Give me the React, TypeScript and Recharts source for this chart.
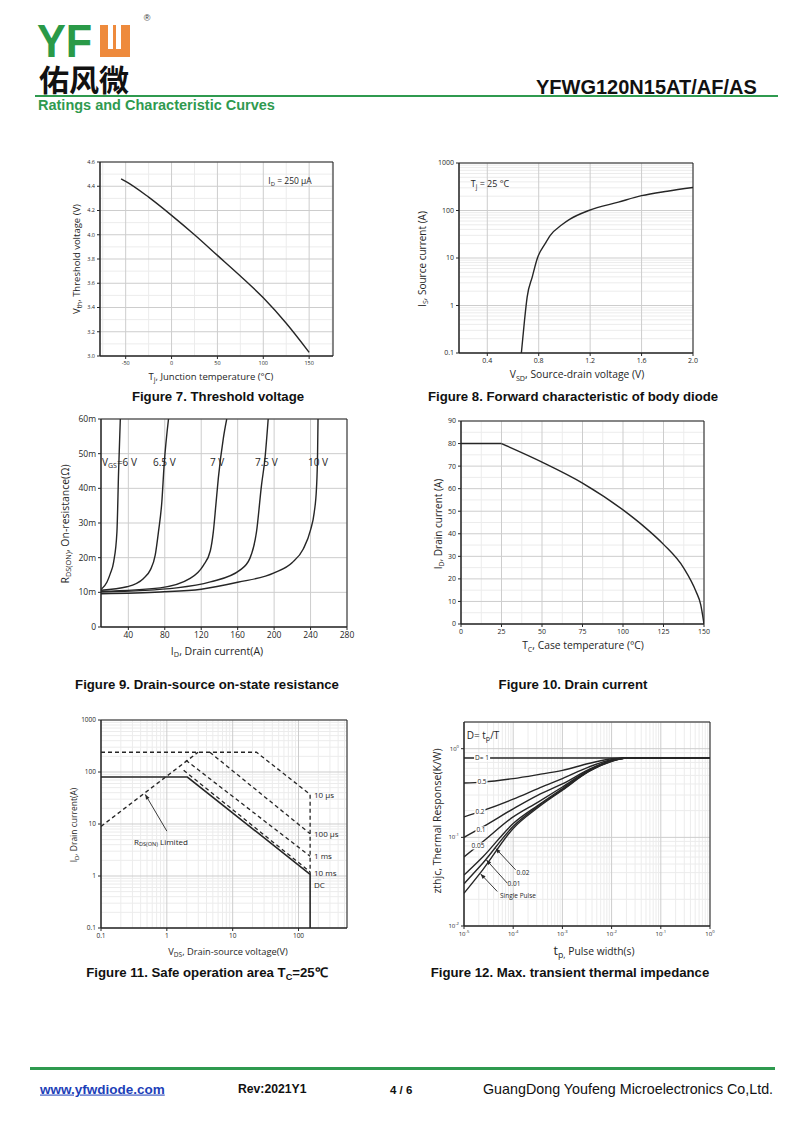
import React from 'react';
import { LineChart, Line, XAxis, YAxis, CartesianGrid, ReferenceArea, ReferenceLine } from 'recharts';

const SANS = '"Open Sans", "DejaVu Sans", sans-serif';
const ARIAL = '"Liberation Sans", Arial, sans-serif';
const GREEN = '#2f9a4f';
const INK = '#262626';
const MAJOR = '#cdcdcd';
const MINOR = '#ececec';

// Figure 7 - threshold voltage vs junction temperature
const vthTemp = [-55, -50, -25, 0, 25, 50, 75, 100, 125, 150];
const vthVolt = [4.46, 4.44, 4.31, 4.16, 4.0, 3.83, 3.66, 3.48, 3.27, 3.03];
const vthXTicks = [-50, 0, 50, 100, 150];
const vthXMinor = [-75, -25, 25, 75, 125, 175];
const vthYTicks = [3.0, 3.2, 3.4, 3.6, 3.8, 4.0, 4.2, 4.4, 4.6];
const vthYMinor = [3.1, 3.3, 3.5, 3.7, 3.9, 4.1, 4.3, 4.5];

// Figure 8 - body diode forward characteristic
const vsd = [0.665, 0.69, 0.71, 0.75, 0.79, 0.85, 0.89, 0.98, 1.04, 1.19, 1.42, 1.6, 1.8, 2.0];
const isd = [0.1, 0.5, 1.5, 4, 10, 20, 30, 50, 65, 100, 150, 205, 255, 305];
const vsdTicks = [0.4, 0.8, 1.2, 1.6, 2.0];
const isdTicks = [0.1, 1, 10, 100, 1000];

// Figure 9 - on-resistance vs drain current (mOhm)
const rds6Id = [10, 16.6, 20.2, 23.9, 27.5, 29.3, 31.2];
const rds6R = [10.8, 13.0, 15.4, 18.8, 27.5, 44.8, 60];
const rds65Id = [10, 38.5, 56.7, 64, 69.5, 73.1, 76.8, 79.3, 84.1];
const rds65R = [10.6, 11.6, 14.0, 16.4, 20.7, 27.5, 36.2, 46.8, 60];
const rds7Id = [10, 75, 107.8, 122.4, 130, 133.3, 136, 138.8, 144.3, 148];
const rds7R = [10.3, 11.3, 14.0, 17.8, 22, 27.5, 35, 43, 54.5, 60];
const rds75Id = [10, 93, 130, 162.5, 173.4, 180.7, 186.2, 190, 193.5];
const rds75R = [10.1, 11.3, 13.0, 16.4, 19.8, 27.5, 41, 48.7, 60];
const rds10Id = [10, 75, 120, 160, 200, 220, 232, 240, 244, 246.5, 247.7, 248.2];
const rds10R = [9.6, 10.1, 10.9, 12.9, 15.6, 18.6, 22.5, 28, 33, 40, 50, 60];
const rdsXTicks = [40, 80, 120, 160, 200, 240, 280];
const rdsYTicks = [0, 10, 20, 30, 40, 50, 60];

// Figure 10 - drain current derating
const tcPlateau = [0, 25];
const idPlateau = [80, 80];
const tcDerate = [25, 50, 75, 100, 112.5, 125, 137.5, 145, 148, 150];
const idDerate = [80, 71.8, 62.5, 50.6, 43.5, 35.3, 24.8, 14.5, 8.5, 0];
const tcTicks = [0, 25, 50, 75, 100, 125, 150];
const tcMinor = [12.5, 37.5, 62.5, 87.5, 112.5, 137.5];
const idTicks = [0, 10, 20, 30, 40, 50, 60, 70, 80, 90];
const idMinor = [5, 15, 25, 35, 45, 55, 65, 75, 85];

// Figure 11 - safe operating area
const soaDcV = [0.1, 2.05, 150, 150];
const soaDcI = [80, 80, 1.08, 0.1];
const soaRdsV = [0.1, 2.98];
const soaRdsI = [9, 240];
const soa10usV = [0.1, 23, 150, 150];
const soa10usI = [240, 240, 37, 1.08];
const soa100usV = [4.5, 150];
const soa100usI = [240, 6.5];
const soa1msV = [1.95, 150];
const soa1msI = [168, 2.4];
const soa10msV = [1.8, 150];
const soa10msI = [108, 1.2];
const soaXTicks = [0.1, 1, 10, 100];
const soaYTicks = [0.1, 1, 10, 100, 1000];
const soaArrowV = [1.0, 0.47];
const soaArrowI = [7.3, 37];

// Figure 12 - transient thermal impedance
const zthT = [1e-5, 2.4e-5, 1e-4, 3.2e-4, 1e-3, 3.4e-3, 1e-2, 2e-2, 1];
const zthD1 = [0.785, 0.785, 0.785, 0.785, 0.785, 0.785, 0.785, 0.785, 0.785];
const zthD05 = [0.41, 0.42, 0.46, 0.51, 0.57, 0.68, 0.77, 0.785, 0.785];
const zthD02 = [0.17, 0.2, 0.27, 0.355, 0.46, 0.62, 0.75, 0.785, 0.785];
const zthD01 = [0.1, 0.131, 0.21, 0.3, 0.4, 0.58, 0.74, 0.785, 0.785];
const zthD005 = [0.06, 0.089, 0.17, 0.25, 0.37, 0.57, 0.73, 0.785, 0.785];
const zthD002 = [0.0375, 0.06, 0.143, 0.23, 0.355, 0.56, 0.73, 0.785, 0.785];
const zthD001 = [0.03, 0.051, 0.133, 0.224, 0.345, 0.555, 0.72, 0.785, 0.785];
const zthSingle = [0.0234, 0.043, 0.126, 0.217, 0.34, 0.55, 0.72, 0.785, 0.785];
const zthXTicks = [1e-5, 1e-4, 1e-3, 1e-2, 1e-1, 1];
const zthYTicks = [0.01, 0.1, 1];
const zthArrowsT = [[1.12e-4, 4.4e-5], [7.6e-5, 2.85e-5], [4.75e-5, 2.18e-5]];
const zthArrowsZ = [[0.043, 0.075], [0.0304, 0.0556], [0.0245, 0.0387]];

const pts = (xs: number[], ys: number[]) => xs.map((x, i) => ({ x, y: ys[i] }));
const logMinors = (e0: number, e1: number, max = Infinity) => {
  const out: number[] = [];
  for (let e = e0; e < e1; e++) for (let k = 2; k < 10; k++) {
    const v = Number((k * Math.pow(10, e)).toPrecision(3));
    if (v <= max) out.push(v);
  }
  return out;
};

type Box = { x: number; y: number; w: number; h: number };
const BOX7: Box = { x: 100, y: 162, w: 233, h: 194 };
const BOX8: Box = { x: 459, y: 163, w: 234, h: 190 };
const BOX9: Box = { x: 101, y: 419, w: 246, h: 208 };
const BOX10: Box = { x: 461, y: 421, w: 243, h: 203 };
const BOX11: Box = { x: 101, y: 720, w: 246, h: 208 };
const BOX12: Box = { x: 464, y: 722, w: 246, h: 204 };

const YW = 40;
const XH = 24;
const PT = 8;
const PR = 14;

const Frame = ({ box, children }: { box: Box; children: React.ReactNode }) => (
  <div style={{ position: 'absolute', left: box.x - YW, top: box.y - PT }}>
    <LineChart width={box.w + YW + PR} height={box.h + PT + XH} margin={{ top: PT, right: PR, bottom: 0, left: 0 }}>
      {children}
    </LineChart>
  </div>
);

const tk = (size: number) => ({ fontSize: size, fill: INK, fontFamily: SANS });
const ax = { type: 'number' as const, allowDataOverflow: true, interval: 0 as const, tickSize: 3, tickMargin: 2, stroke: INK };

const PowTick = (props: any) => {
  const { x, y, payload, axis, size = 6 } = props;
  const e = Math.round(Math.log10(payload.value));
  const sup = <tspan dy={-3} fontSize={size * 0.7}>{e}</tspan>;
  if (axis === 'x') {
    return (
      <text x={x} y={y + size * 0.8} textAnchor="middle" fontSize={size} fill={INK} fontFamily={SANS}>
        10{sup}
      </text>
    );
  }
  return (
    <text x={x} y={y + size * 0.35} textAnchor="end" fontSize={size} fill={INK} fontFamily={SANS}>
      10{sup}
    </text>
  );
};

const Arrow = (p: any) => {
  const { x1, y1, x2, y2 } = p;
  const a = Math.atan2(y2 - y1, x2 - x1);
  const L = 5;
  const W = 2;
  const bx = x2 - L * Math.cos(a);
  const by = y2 - L * Math.sin(a);
  const s = (ang: number) => `${bx + W * Math.cos(ang)},${by + W * Math.sin(ang)}`;
  return (
    <g>
      <line x1={x1} y1={y1} x2={x2} y2={y2} stroke={INK} strokeWidth={0.9} />
      <polygon points={`${x2},${y2} ${s(a + Math.PI / 2)} ${s(a - Math.PI / 2)}`} fill={INK} />
    </g>
  );
};

type TxtProps = {
  x: number; y: number; size?: number; align?: 'left' | 'center' | 'right'; rotate?: boolean;
  bold?: boolean; color?: string; font?: string; bg?: string; style?: React.CSSProperties; children: React.ReactNode;
};
const Txt = ({ x, y, size = 9, align = 'center', rotate, bold, color = INK, font = SANS, bg, style, children }: TxtProps) => {
  const tx = align === 'left' ? '0' : align === 'right' ? '-100%' : '-50%';
  return (
    <div
      style={{
        position: 'absolute', left: x, top: y, whiteSpace: 'nowrap', lineHeight: 1.1,
        transform: `translate(${tx},-50%)${rotate ? ' rotate(-90deg)' : ''}`,
        fontSize: size, fontWeight: bold ? 700 : 400, color, fontFamily: font,
        background: bg, padding: bg ? '0 1px' : undefined, ...style,
      }}
    >
      {children}
    </div>
  );
};
const Sub = ({ children }: { children: React.ReactNode }) => (
  <sub style={{ fontSize: '0.7em', verticalAlign: '-0.3em', lineHeight: 0 }}>{children}</sub>
);

const lineProps = { dataKey: 'y', stroke: INK, strokeWidth: 1.4, dot: false, isAnimationActive: false, activeDot: false } as const;
const dashProps = { ...lineProps, type: 'linear' as const, strokeDasharray: '4 3', strokeWidth: 1.3 };

const Caption = ({ x, y, children }: { x: number; y: number; children: React.ReactNode }) => (
  <Txt x={x} y={y} size={13.2} bold font={ARIAL} color="#111">{children}</Txt>
);

export default function App() {
  return (
    <div style={{ position: 'absolute', left: 0, top: 0, width: 800, height: 1130, background: '#fff', overflow: 'hidden' }}>
      {/* header */}
      <div style={{ position: 'absolute', left: 37, top: 23, fontFamily: ARIAL, fontWeight: 700, fontSize: 47, color: '#2a9a48', transform: 'scaleX(0.92)', transformOrigin: 'left top', lineHeight: 0.75 }}>YF</div>
      <div style={{ position: 'absolute', left: 100, top: 25, width: 30, height: 32, background: '#ee8a3c' }}>
        <div style={{ position: 'absolute', left: 8, top: 0, width: 5, height: 24, background: '#fff' }} />
        <div style={{ position: 'absolute', left: 16, top: 0, width: 5, height: 24, background: '#fff' }} />
      </div>
      <Txt x={147} y={19} size={9} color="#333" font={ARIAL}>®</Txt>
      <Txt x={39} y={78} size={30} bold align="left" color="#111" font={'"Noto Sans CJK SC", sans-serif'} style={{ lineHeight: 1 }}>佑风微</Txt>
      <Txt x={536} y={87} size={20} bold align="left" color="#111" font={ARIAL}>YFWG120N15AT/AF/AS</Txt>
      <div style={{ position: 'absolute', left: 35, top: 95, width: 743, height: 2, background: GREEN }} />
      <Txt x={38} y={106} size={14.5} bold align="left" color={GREEN} font={ARIAL}>Ratings and Characteristic Curves</Txt>

      {/* Figure 7 */}
      <Frame box={BOX7}>
        <CartesianGrid stroke={MINOR} verticalValues={vthXMinor} horizontalValues={vthYMinor} />
        <CartesianGrid stroke={MAJOR} />
        <XAxis {...ax} dataKey="x" domain={[-78, 176]} ticks={vthXTicks} height={XH} tick={tk(5.5)} />
        <YAxis {...ax} domain={[3.0, 4.6]} ticks={vthYTicks} width={YW} tick={tk(5.5)} tickFormatter={(v: number) => v.toFixed(1)} />
        <ReferenceArea x1={-78} x2={176} y1={3.0} y2={4.6} fill="none" stroke={INK} />
        <Line {...lineProps} type="monotone" data={pts(vthTemp, vthVolt)} />
      </Frame>
      <Txt x={290} y={181} size={8.5}>I<Sub>D</Sub> = 250 μA</Txt>
      <Txt x={211} y={377} size={9.5}>T<Sub>j</Sub>, Junction temperature (°C)</Txt>
      <Txt x={77} y={259} size={9.5} rotate>V<Sub>th</Sub>, Threshold voltage (V)</Txt>
      <Caption x={218} y={397}>Figure 7. Threshold voltage</Caption>

      {/* Figure 8 */}
      <Frame box={BOX8}>
        <CartesianGrid stroke={MINOR} vertical={false} horizontalValues={logMinors(-1, 3)} />
        <CartesianGrid stroke={MAJOR} />
        <XAxis {...ax} dataKey="x" domain={[0.18, 2.0]} ticks={vsdTicks} height={XH} tick={tk(7)} tickFormatter={(v: number) => v.toFixed(1)} />
        <YAxis {...ax} scale="log" domain={[0.1, 1000]} ticks={isdTicks} width={YW} tick={tk(7)} tickFormatter={(v: number) => String(v)} />
        <ReferenceArea x1={0.18} x2={2.0} y1={0.1} y2={1000} fill="none" stroke={INK} />
        <Line {...lineProps} type="monotone" data={pts(vsd, isd)} />
      </Frame>
      <Txt x={490} y={184} size={9}>T<Sub>j</Sub> = 25 °C</Txt>
      <Txt x={577} y={375} size={10.3}>V<Sub>SD</Sub>, Source-drain voltage (V)</Txt>
      <Txt x={422} y={259} size={10} rotate>I<Sub>S</Sub>, Source current (A)</Txt>
      <Caption x={573} y={397}>Figure 8. Forward characteristic of body diode</Caption>

      {/* Figure 9 */}
      <Frame box={BOX9}>
        <CartesianGrid stroke={MAJOR} />
        <XAxis {...ax} dataKey="x" domain={[10, 280]} ticks={rdsXTicks} height={XH} tick={tk(8.5)} />
        <YAxis {...ax} domain={[0, 60]} ticks={rdsYTicks} width={YW} tick={tk(8.5)} tickFormatter={(v: number) => (v === 0 ? '0' : `${v}m`)} />
        <ReferenceArea x1={10} x2={280} y1={0} y2={60} fill="none" stroke={INK} />
        <Line {...lineProps} type="monotone" data={pts(rds6Id, rds6R)} />
        <Line {...lineProps} type="monotone" data={pts(rds65Id, rds65R)} />
        <Line {...lineProps} type="monotone" data={pts(rds7Id, rds7R)} />
        <Line {...lineProps} type="monotone" data={pts(rds75Id, rds75R)} />
        <Line {...lineProps} type="monotone" data={pts(rds10Id, rds10R)} />
      </Frame>
      <Txt x={102} y={462} size={10} align="left">V<Sub>GS</Sub>=6 V</Txt>
      <Txt x={153} y={462} size={10} align="left">6.5 V</Txt>
      <Txt x={210} y={462} size={10} align="left">7 V</Txt>
      <Txt x={255} y={462} size={10} align="left">7.5 V</Txt>
      <Txt x={308} y={462} size={10} align="left">10 V</Txt>
      <Txt x={217} y={652} size={10.5}>I<Sub>D</Sub>, Drain current(A)</Txt>
      <Txt x={66} y={524} size={10.5} rotate>R<Sub>DS(ON)</Sub>, On-resistance(Ω)</Txt>
      <Caption x={207} y={685}>Figure 9. Drain-source on-state resistance</Caption>

      {/* Figure 10 */}
      <Frame box={BOX10}>
        <CartesianGrid stroke={MINOR} verticalValues={tcMinor} horizontalValues={idMinor} />
        <CartesianGrid stroke={MAJOR} />
        <XAxis {...ax} dataKey="x" domain={[0, 150]} ticks={tcTicks} height={XH} tick={tk(7)} />
        <YAxis {...ax} domain={[0, 90]} ticks={idTicks} width={YW} tick={tk(7)} />
        <ReferenceArea x1={0} x2={150} y1={0} y2={90} fill="none" stroke={INK} />
        <Line {...lineProps} type="linear" data={pts(tcPlateau, idPlateau)} />
        <Line {...lineProps} type="monotone" data={pts(tcDerate, idDerate)} />
      </Frame>
      <Txt x={583} y={646} size={10.3}>T<Sub>C</Sub>, Case temperature (°C)</Txt>
      <Txt x={438} y={524} size={10} rotate>I<Sub>D</Sub>, Drain current (A)</Txt>
      <Caption x={573} y={685}>Figure 10. Drain current</Caption>

      {/* Figure 11 */}
      <Frame box={BOX11}>
        <CartesianGrid stroke={MINOR} verticalValues={logMinors(-1, 3, 545)} horizontalValues={logMinors(-1, 3)} />
        <CartesianGrid stroke={MAJOR} />
        <XAxis {...ax} dataKey="x" scale="log" domain={[0.1, 545]} ticks={soaXTicks} height={XH} tick={tk(6.5)} tickFormatter={(v: number) => String(v)} />
        <YAxis {...ax} scale="log" domain={[0.1, 1000]} ticks={soaYTicks} width={YW} tick={tk(6.5)} tickFormatter={(v: number) => String(v)} />
        <ReferenceArea x1={0.1} x2={545} y1={0.1} y2={1000} fill="none" stroke={INK} />
        <Line {...dashProps} data={pts(soaRdsV, soaRdsI)} />
        <Line {...dashProps} data={pts(soa10usV, soa10usI)} />
        <Line {...dashProps} data={pts(soa100usV, soa100usI)} />
        <Line {...dashProps} data={pts(soa1msV, soa1msI)} />
        <Line {...dashProps} data={pts(soa10msV, soa10msI)} />
        <Line {...lineProps} type="linear" strokeWidth={1.6} data={pts(soaDcV, soaDcI)} />
        <ReferenceLine segment={[{ x: soaArrowV[0], y: soaArrowI[0] }, { x: soaArrowV[1], y: soaArrowI[1] }]} shape={Arrow} />
      </Frame>
      <Txt x={314} y={795} size={8} align="left">10 μs</Txt>
      <Txt x={314} y={834} size={8} align="left">100 μs</Txt>
      <Txt x={314} y={856} size={8} align="left">1 ms</Txt>
      <Txt x={314} y={873} size={8} align="left">10 ms</Txt>
      <Txt x={314} y={885} size={8} align="left">DC</Txt>
      <Txt x={134} y={842} size={8} align="left">R<Sub>DS(ON)</Sub> Limited</Txt>
      <Txt x={228} y={952} size={9.3}>V<Sub>DS</Sub>, Drain-source voltage(V)</Txt>
      <Txt x={74} y={825} size={8.5} rotate>I<Sub>D</Sub>, Drain current(A)</Txt>
      <Caption x={207} y={973}>Figure 11. Safe operation area T<Sub>C</Sub>=25℃</Caption>

      {/* Figure 12 */}
      <Frame box={BOX12}>
        <CartesianGrid stroke={MINOR} verticalValues={logMinors(-5, 0)} horizontalValues={logMinors(-2, 1, 2)} />
        <CartesianGrid stroke={MAJOR} />
        <XAxis {...ax} dataKey="x" scale="log" domain={[1e-5, 1]} ticks={zthXTicks} height={XH} tick={<PowTick axis="x" size={6} />} />
        <YAxis {...ax} scale="log" domain={[0.01, 2]} ticks={zthYTicks} width={YW} tick={<PowTick axis="y" size={6} />} />
        <ReferenceArea x1={1e-5} x2={1} y1={0.01} y2={2} fill="none" stroke={INK} />
        <Line {...lineProps} type="monotone" data={pts(zthT, zthD1)} />
        <Line {...lineProps} type="monotone" data={pts(zthT, zthD05)} />
        <Line {...lineProps} type="monotone" data={pts(zthT, zthD02)} />
        <Line {...lineProps} type="monotone" data={pts(zthT, zthD01)} />
        <Line {...lineProps} type="monotone" data={pts(zthT, zthD005)} />
        <Line {...lineProps} type="monotone" data={pts(zthT, zthD002)} />
        <Line {...lineProps} type="monotone" data={pts(zthT, zthD001)} />
        <Line {...lineProps} type="monotone" data={pts(zthT, zthSingle)} />
        {zthArrowsT.map((t, i) => (
          <ReferenceLine key={i} segment={[{ x: t[0], y: zthArrowsZ[i][0] }, { x: t[1], y: zthArrowsZ[i][1] }]} shape={Arrow} />
        ))}
      </Frame>
      <Txt x={483} y={735} size={10}>D= t<Sub>p</Sub>/T</Txt>
      <Txt x={482} y={758} size={6.5} bg="#fff">D= 1</Txt>
      <Txt x={482} y={782} size={6.5} bg="#fff">0.5</Txt>
      <Txt x={480} y={812} size={6.5} bg="#fff">0.2</Txt>
      <Txt x={481} y={830} size={6.5} bg="#fff">0.1</Txt>
      <Txt x={478} y={846} size={6.5} bg="#fff">0.05</Txt>
      <Txt x={523} y={873} size={6.5}>0.02</Txt>
      <Txt x={514} y={884} size={6.5}>0.01</Txt>
      <Txt x={518} y={896} size={6.5}>Single Pulse</Txt>
      <Txt x={594} y={951} size={10.3}><span style={{ fontSize: 12.5 }}>t<Sub>p,</Sub></span> Pulse width(s)</Txt>
      <Txt x={438} y={821} size={10.5} rotate>zthjc, Thermal Response(K/W)</Txt>
      <Caption x={570} y={973}>Figure 12. Max. transient thermal impedance</Caption>

      {/* footer */}
      <div style={{ position: 'absolute', left: 30, top: 1067, width: 745, height: 2.5, background: GREEN }} />
      <Txt x={40} y={1090} size={13.5} bold align="left" color="#1d3fb8" font={ARIAL} style={{ textDecoration: 'underline' }}>www.yfwdiode.com</Txt>
      <Txt x={238} y={1090} size={12.2} bold align="left" color="#111" font={ARIAL}>Rev:2021Y1</Txt>
      <Txt x={390} y={1090} size={11.5} bold align="left" color="#111" font={ARIAL}>4 / 6</Txt>
      <Txt x={483} y={1090} size={14.3} align="left" color="#111" font={ARIAL}>GuangDong Youfeng Microelectronics Co,Ltd.</Txt>
    </div>
  );
}
